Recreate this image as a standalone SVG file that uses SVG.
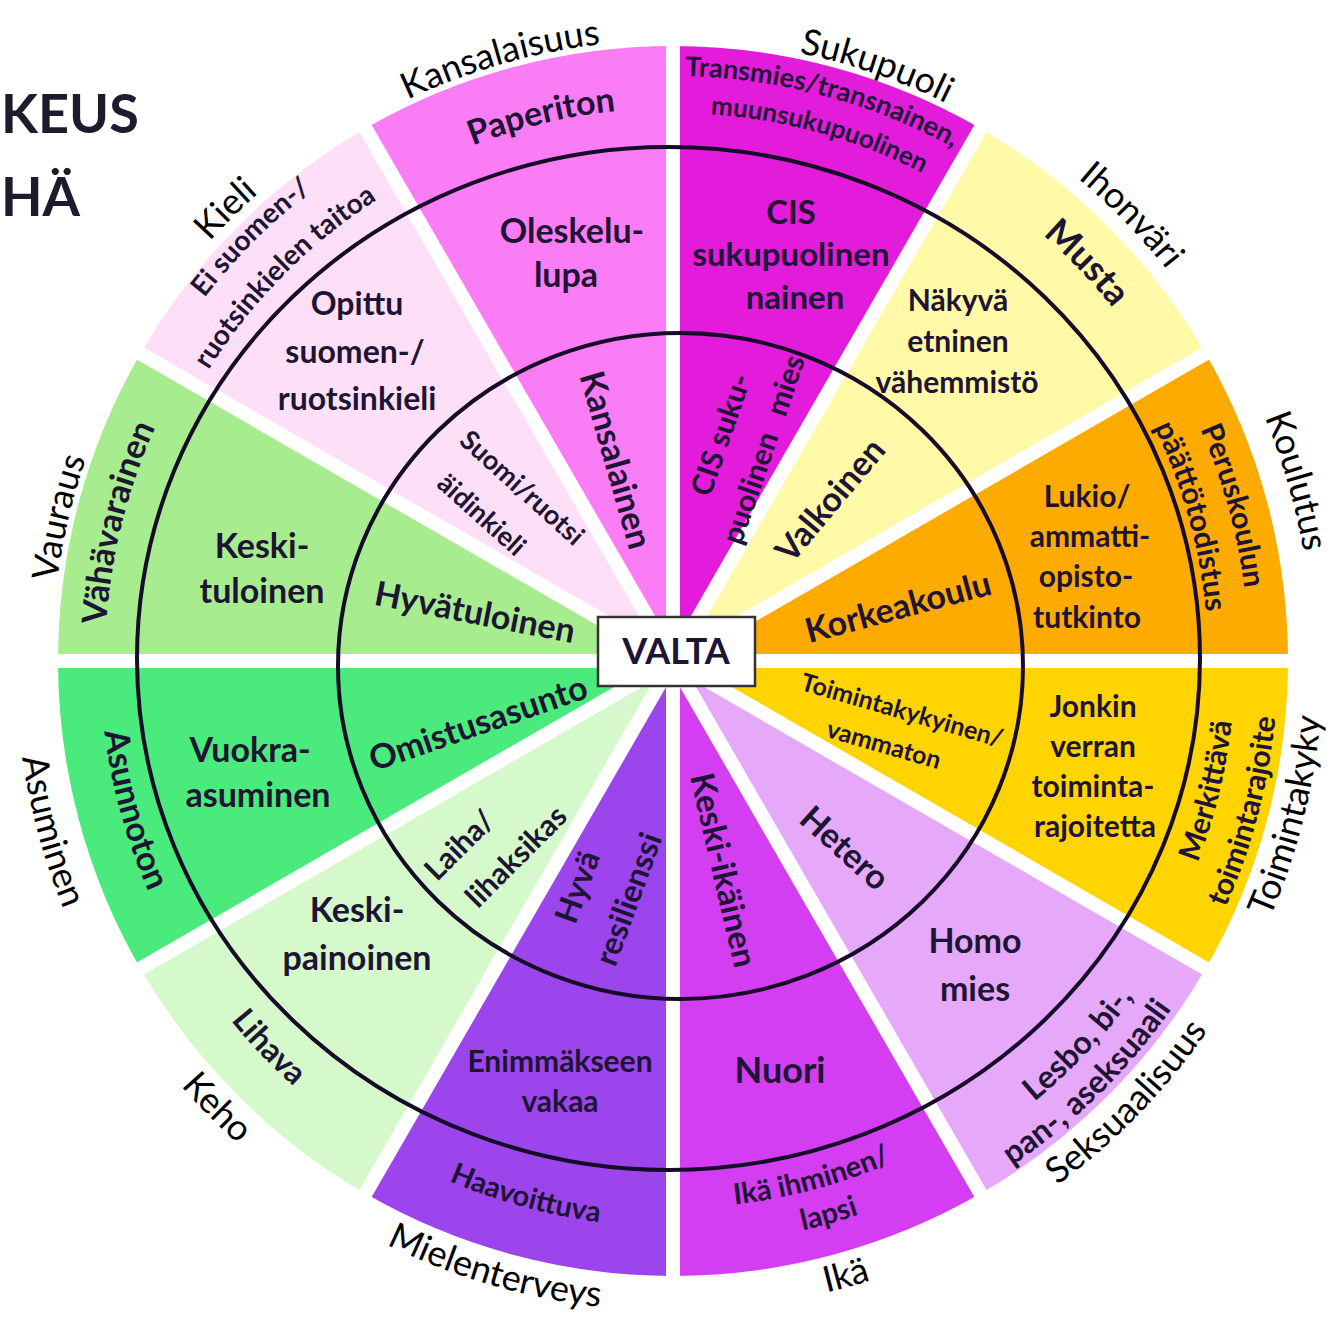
<svg xmlns="http://www.w3.org/2000/svg" width="1337" height="1325" viewBox="0 0 1337 1325">
<style>
text { font-family: Lato, "Open Sans", "Liberation Sans", sans-serif; text-anchor: middle; }
.lab { font-size: 36px; font-weight: 400; fill: #000; }
.b { font-weight: 700; fill: #1e1433; }
.s24 { font-size: 24px; } .s25 { font-size: 25px; } .s26 { font-size: 26px; } .s27 { font-size: 27px; } .s28 { font-size: 28px; } .s29 { font-size: 29px; }
.s30 { font-size: 30px; } .s32 { font-size: 32px; } .s33 { font-size: 33px; } .s34 { font-size: 34px; } .s36 { font-size: 36px; }
.gap { stroke: #fff; stroke-width: 14; }
.ring { fill: none; stroke: #160c28; stroke-width: 4; }
.title { font-size: 54px; font-weight: 700; fill: #1c1c2c; text-anchor: start; }
</style>
<defs>
<path id="T621" d="M362.5,123.2 A621,621 0 0 1 983.5,123.2"/>
<path id="T630" d="M358,115.4 A630,630 0 0 1 988,115.4"/>
<path id="T640" d="M353,106.8 A640,640 0 0 1 993,106.8"/>
<path id="T625" d="M360.5,119.7 A625,625 0 0 1 985.5,119.7"/>
<path id="T553" d="M396.5,182.1 A553,553 0 0 1 949.5,182.1"/>
<path id="T585" d="M380.5,154.4 A585,585 0 0 1 965.5,154.4"/>
<path id="T548" d="M399,186.4 A548,548 0 0 1 947,186.4"/>
<path id="T564" d="M391,172.6 A564,564 0 0 1 955,172.6"/>
<path id="T576" d="M385,162.2 A576,576 0 0 1 961,162.2"/>
<path id="T535" d="M405.5,197.7 A535,535 0 0 1 940.5,197.7"/>
<path id="T568" d="M389,169.1 A568,568 0 0 1 957,169.1"/>
<path id="T593" d="M376.5,147.5 A593,593 0 0 1 969.5,147.5"/>
<path id="T548b" d="M399,186.4 A548,548 0 0 1 947,186.4"/>
<path id="B650" d="M348,1223.9 A650,650 0 0 0 998,1223.9"/>
<path id="B658" d="M344,1230.8 A658,658 0 0 0 1002,1230.8"/>
<path id="B562" d="M392,1147.7 A562,562 0 0 0 954,1147.7"/>
<path id="B605" d="M370.5,1184.9 A605,605 0 0 0 975.5,1184.9"/>
<path id="B570" d="M388,1154.6 A570,570 0 0 0 958,1154.6"/>
<path id="B608" d="M369,1187.5 A608,608 0 0 0 977,1187.5"/>
<path id="B547" d="M399.5,1134.7 A547,547 0 0 0 946.5,1134.7"/>
<path id="B584" d="M381,1166.7 A584,584 0 0 0 965,1166.7"/>
<path id="B566" d="M390,1151.2 A566,566 0 0 0 956,1151.2"/>
<path id="B573" d="M386.5,1157.2 A573,573 0 0 0 959.5,1157.2"/>
</defs>
<rect width="1337" height="1325" fill="#fff"/>
<g id="title">
<text class="title" x="1" y="133">KEUS</text>
<text class="title" x="1" y="216">HÄ</text>
</g>
<g id="wedges">
<path id="w-sukupuoli" fill="#e31bdb" d="M673,661 L673,46 A615,615 0 0 1 980.5,128.4 Z"/>
<path id="w-ihonvari" fill="#fff9a8" d="M673,661 L980.5,128.4 A615,615 0 0 1 1205.6,353.5 Z"/>
<path id="w-koulutus" fill="#fdab00" d="M673,661 L1205.6,353.5 A615,615 0 0 1 1288,661 Z"/>
<path id="w-toimintakyky" fill="#ffd400" d="M673,661 L1288,661 A615,615 0 0 1 1205.6,968.5 Z"/>
<path id="w-seksuaalisuus" fill="#e6a8f8" d="M673,661 L1205.6,968.5 A615,615 0 0 1 980.5,1193.6 Z"/>
<path id="w-ika" fill="#d43ef2" d="M673,661 L980.5,1193.6 A615,615 0 0 1 673,1276 Z"/>
<path id="w-mielenterveys" fill="#9c45ec" d="M673,661 L673,1276 A615,615 0 0 1 365.5,1193.6 Z"/>
<path id="w-keho" fill="#d6f9cb" d="M673,661 L365.5,1193.6 A615,615 0 0 1 140.4,968.5 Z"/>
<path id="w-asuminen" fill="#4aea7c" d="M673,661 L140.4,968.5 A615,615 0 0 1 58,661 Z"/>
<path id="w-vauraus" fill="#a8ec90" d="M673,661 L58,661 A615,615 0 0 1 140.4,353.5 Z"/>
<path id="w-kieli" fill="#fde0f8" d="M673,661 L140.4,353.5 A615,615 0 0 1 365.5,128.4 Z"/>
<path id="w-kansalaisuus" fill="#fb7df5" d="M673,661 L365.5,128.4 A615,615 0 0 1 673,46 Z"/>
</g>
<g id="gaps" class="gap">
<line x1="33" y1="661" x2="1313" y2="661"/>
<line x1="118.7" y1="341" x2="1227.3" y2="981"/>
<line x1="353" y1="106.7" x2="993" y2="1215.3"/>
<line x1="673" y1="21" x2="673" y2="1301"/>
<line x1="993" y1="106.7" x2="353" y2="1215.3"/>
<line x1="1227.3" y1="341" x2="118.7" y2="981"/>
</g>
<g id="rings">
<ellipse class="ring" cx="668.5" cy="658.5" rx="531.5" ry="511.5"/>
<ellipse class="ring" cx="680.5" cy="666" rx="342.5" ry="333"/>
</g>
<g id="kansalaisuus">
<text class="lab" transform="rotate(-16 673 661)"><textPath href="#T621" startOffset="50%">Kansalaisuus</textPath></text>
<text class="b s34" transform="rotate(-13.6 673 661)"><textPath href="#T553" startOffset="50%">Paperiton</textPath></text>
<text class="b s34" x="572" y="243">Oleskelu-</text>
<text class="b s34" x="566" y="287">lupa</text>
<text class="b s34" transform="translate(616,460) rotate(74)" y="12">Kansalainen</text>
</g>
<g id="sukupuoli">
<text class="lab" transform="rotate(18.9 673 661)"><textPath href="#T621" startOffset="50%">Sukupuoli</textPath></text>
<text class="b s27" transform="rotate(14.9 673 661)"><textPath href="#T585" startOffset="50%">Transmies/transnainen,</textPath></text>
<text class="b s26" transform="rotate(15.5 673 661)"><textPath href="#T548" startOffset="50%">muunsukupuolinen</textPath></text>
<text class="b s33" x="791" y="224">CIS</text>
<text class="b s33" x="791" y="266">sukupuolinen</text>
<text class="b s33" x="795" y="309">nainen</text>
<g transform="translate(742,442) rotate(-71)">
<text class="b s30" y="-12">CIS suku-</text>
<text class="b s30" y="33" word-spacing="12">puolinen mies</text>
</g>
</g>
<g id="ihonvari">
<text class="lab" transform="rotate(45.8 673 661)"><textPath href="#T630" startOffset="50%">Ihonväri</textPath></text>
<text class="b s36" transform="rotate(46.1 673 661)"><textPath href="#T564" startOffset="50%">Musta</textPath></text>
<text class="b s30" x="958" y="311">Näkyvä</text>
<text class="b s30" x="958" y="352">etninen</text>
<text class="b s30" x="957" y="393">vähemmistö</text>
<text class="b s34" transform="translate(830,500) rotate(-50)" y="12">Valkoinen</text>
</g>
<g id="koulutus">
<text class="lab" transform="rotate(73.9 673 661)"><textPath href="#T640" startOffset="50%">Koulutus</textPath></text>
<text class="b s30" transform="rotate(74.5 673 661)"><textPath href="#T576" startOffset="50%">Peruskoulun</textPath></text>
<text class="b s30" transform="rotate(74.4 673 661)"><textPath href="#T535" startOffset="50%">päättötodistus</textPath></text>
<text class="b s30" x="1087" y="507">Lukio/</text>
<text class="b s30" x="1090" y="547">ammatti-</text>
<text class="b s30" x="1086" y="587">opisto-</text>
<text class="b s30" x="1087" y="628">tutkinto</text>
<text class="b s34" transform="translate(898,607) rotate(-15)" y="12">Korkeakoulu</text>
</g>
<g id="toimintakyky">
<text class="lab" transform="rotate(-75.9 673 661)"><textPath href="#B650" startOffset="50%">Toimintakyky</textPath></text>
<text class="b s30" transform="rotate(-76.4 673 661)"><textPath href="#B562" startOffset="50%">Merkittävä</textPath></text>
<text class="b s30" transform="rotate(-75.3 673 661)"><textPath href="#B605" startOffset="50%">toimintarajoite</textPath></text>
<text class="b s30" x="1093" y="717">Jonkin</text>
<text class="b s30" x="1093" y="757">verran</text>
<text class="b s30" x="1093" y="797">toiminta-</text>
<text class="b s30" x="1095" y="837">rajoitetta</text>
<g transform="translate(893,727) rotate(16)">
<text class="b s25" x="4" y="-10">Toimintakykyinen/</text>
<text class="b s25" x="-4" y="28">vammaton</text>
</g>
</g>
<g id="seksuaalisuus">
<text class="lab" transform="rotate(-45.8 673 661)"><textPath href="#B650" startOffset="50%">Seksuaalisuus</textPath></text>
<text class="b s32" transform="rotate(-46.6 673 661)"><textPath href="#B570" startOffset="50%">Lesbo, bi-,</textPath></text>
<text class="b s32" transform="rotate(-44.5 673 661)"><textPath href="#B608" startOffset="50%">pan-, aseksuaali</textPath></text>
<text class="b s34" x="975" y="953">Homo</text>
<text class="b s34" x="975" y="1001">mies</text>
<text class="b s34" transform="translate(845,848) rotate(42)" y="12">Hetero</text>
</g>
<g id="ika">
<text class="lab" transform="rotate(-15.7 673 661)"><textPath href="#B650" startOffset="50%">Ikä</textPath></text>
<text class="b s29" transform="rotate(-15 673 661)"><textPath href="#B547" startOffset="50%">Ikä ihminen/</textPath></text>
<text class="b s29" transform="rotate(-15.7 673 661)"><textPath href="#B584" startOffset="50%">lapsi</textPath></text>
<text class="b s36" x="780" y="1083">Nuori</text>
<text class="b s33" transform="translate(724,870) rotate(77)" y="12">Keski-ikäinen</text>
</g>
<g id="mielenterveys">
<text class="lab" transform="rotate(16.3 673 661)"><textPath href="#B650" startOffset="50%">Mielenterveys</textPath></text>
<text class="b s29" transform="rotate(15.4 673 661)"><textPath href="#B566" startOffset="50%">Haavoittuva</textPath></text>
<text class="b s30" x="560" y="1072">Enimmäkseen</text>
<text class="b s30" x="560" y="1112">vakaa</text>
<g transform="translate(603,893) rotate(-70)">
<text class="b s32" x="-3" y="-15">Hyvä</text>
<text class="b s32" x="3" y="37">resilienssi</text>
</g>
</g>
<g id="keho">
<text class="lab" transform="rotate(45.6 673 661)"><textPath href="#B650" startOffset="50%">Keho</textPath></text>
<text class="b s32" transform="rotate(46.3 673 661)"><textPath href="#B570" startOffset="50%">Lihava</textPath></text>
<text class="b s34" x="357" y="922">Keski-</text>
<text class="b s34" x="357" y="970">painoinen</text>
<g transform="translate(488,851) rotate(-45)">
<text class="b s30" x="-16" y="-14">Laiha/</text>
<text class="b s30" x="16" y="34">lihaksikas</text>
</g>
</g>
<g id="asuminen">
<text class="lab" transform="rotate(74.7 673 661)"><textPath href="#B658" startOffset="50%">Asuminen</textPath></text>
<text class="b s34" transform="rotate(74.6 673 661)"><textPath href="#B573" startOffset="50%">Asunnoton</textPath></text>
<text class="b s34" x="250" y="762">Vuokra-</text>
<text class="b s34" x="258" y="807">asuminen</text>
<text class="b s34" transform="translate(478,723) rotate(-19)" y="12">Omistusasunto</text>
</g>
<g id="vauraus">
<text class="lab" transform="rotate(-76.8 673 661)"><textPath href="#T621" startOffset="50%">Vauraus</textPath></text>
<text class="b s34" transform="rotate(-76 673 661)"><textPath href="#T568" startOffset="50%">Vähävarainen</textPath></text>
<text class="b s34" x="262" y="558">Keski-</text>
<text class="b s34" x="262" y="603">tuloinen</text>
<text class="b s34" transform="translate(475,612) rotate(11)" y="12">Hyvätuloinen</text>
</g>
<g id="kieli">
<text class="lab" transform="rotate(-44.7 673 661)"><textPath href="#T625" startOffset="50%">Kieli</textPath></text>
<text class="b s28" transform="rotate(-44.9 673 661)"><textPath href="#T593" startOffset="50%">Ei suomen-/</textPath></text>
<text class="b s28" transform="rotate(-45.3 673 661)"><textPath href="#T548b" startOffset="50%">ruotsinkielen taitoa</textPath></text>
<text class="b s32" x="357" y="315">Opittu</text>
<text class="b s32" x="355" y="363">suomen-/</text>
<text class="b s32" x="357" y="410">ruotsinkieli</text>
<g transform="translate(502,501) rotate(42)">
<text class="b s27" x="6" y="-14">Suomi/ruotsi</text>
<text class="b s27" x="-6" y="33">äidinkieli</text>
</g>
</g>
<g id="valta">
<rect x="598" y="617" width="157" height="69" fill="#fff" stroke="#333" stroke-width="2.5"/>
<text class="b s36" x="676" y="664" fill="#151522">VALTA</text>
</g>
</svg>
